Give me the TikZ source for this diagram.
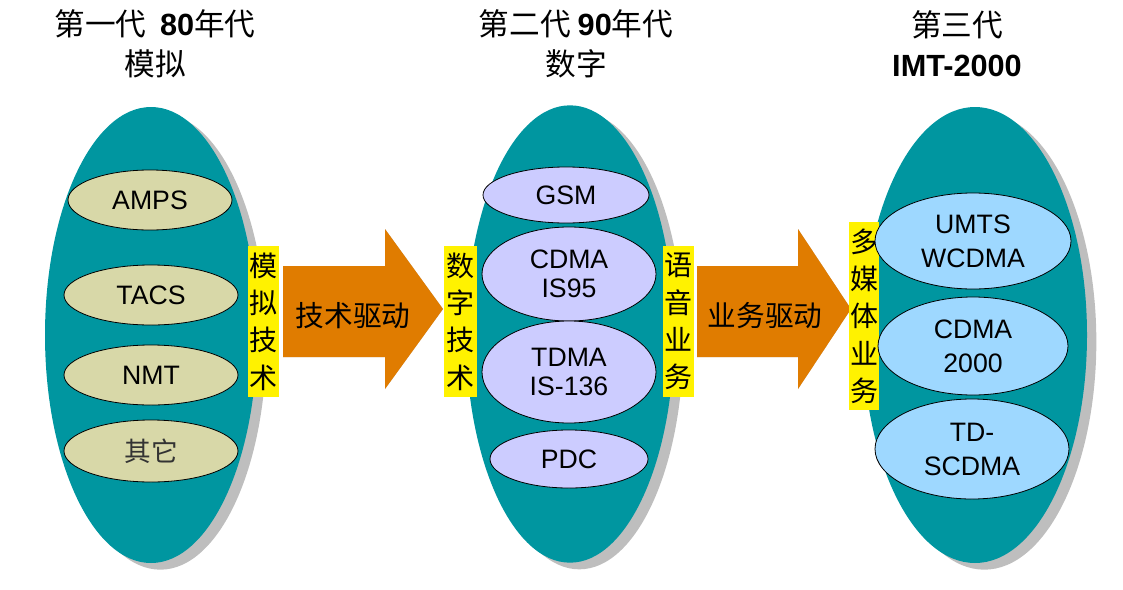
\documentclass[tikz,border=0pt]{standalone}
\usepackage{fontspec}
\setmainfont{Liberation Sans}
\newfontfamily\cjk{Noto Sans CJK SC}
\usetikzlibrary{shapes.geometric,shadows}
\definecolor{tealbig}{RGB}{0,150,160}
\definecolor{shadowgray}{RGB}{190,190,190}
\definecolor{tanfill}{RGB}{216,216,168}
\definecolor{lavfill}{RGB}{204,204,255}
\definecolor{skyfill}{RGB}{158,216,255}
\definecolor{orngfill}{RGB}{224,124,0}
\tikzset{
  bigell/.style={ellipse, fill=tealbig, inner sep=0pt,
    drop shadow={shadow xshift=7pt, shadow yshift=-5pt, fill=shadowgray, opacity=1}},
  innerell/.style={ellipse, draw=black, line width=0.6pt, inner sep=0pt, align=center,
    font=\fontsize{20}{22}\selectfont},
  innerellwide/.style={innerell, font=\fontsize{20}{25.5}\selectfont},
  ylab/.style={fill=yellow, inner sep=0pt, minimum width=23.25pt, align=center,
    font=\cjk\fontsize{21}{28}\selectfont},
  bigarrow/.style={fill=orngfill},
  arrowshadow/.style={fill=shadowgray},
  arrowtext/.style={font=\cjk\fontsize{21.5}{26}\selectfont},
  titletext/.style={align=center, font=\cjk\fontsize{23}{30}\selectfont}
}
\begin{document}
\begin{tikzpicture}[x=0.75pt,y=-0.75pt]
\useasboundingbox (0,0) rectangle (1123,589);

% titles
\node[titletext] (t1) at (155,44) {第一代\ \ {\fontspec{Liberation Sans}\bfseries 80}年代\\模拟};
\node[titletext] (t2) at (576,44) {第二代 {\fontspec{Liberation Sans}\bfseries 90}年代\\数字};
\node[titletext] (t3) at (957,44) {第三代\\{\fontspec{Liberation Sans}\bfseries IMT-2000}};

% big ellipses
\node[bigell, minimum width=159pt, minimum height=342pt] (g1) at (151,335) {};
\node[bigell, minimum width=156pt, minimum height=343pt] (g2) at (570,334) {};
\node[bigell, minimum width=168pt, minimum height=342pt] (g3) at (975,335) {};

% block arrows
\coordinate (a1) at (283,311);
\coordinate (a2) at (697,311);
\begin{scope}[shift={(10,10)}]
  \fill[arrowshadow] (a1) ++(0,-45) -- ++(102,0) -- ++(0,-37) -- ++(58,80) -- ++(-58,80) -- ++(0,-32) -- ++(-102,0) -- cycle;
  \fill[arrowshadow] (a2) ++(0,-45) -- ++(101,0) -- ++(0,-37) -- ++(53,80) -- ++(-53,80) -- ++(0,-32) -- ++(-101,0) -- cycle;
\end{scope}
\fill[bigarrow] (a1) ++(0,-45) -- ++(102,0) -- ++(0,-37) -- ++(58,80) -- ++(-58,80) -- ++(0,-32) -- ++(-102,0) -- cycle;
\fill[bigarrow] (a2) ++(0,-45) -- ++(101,0) -- ++(0,-37) -- ++(53,80) -- ++(-53,80) -- ++(0,-32) -- ++(-101,0) -- cycle;
\node[arrowtext] (d1) at (353,316) {技术驱动};
\node[arrowtext] (d2) at (765,316) {业务驱动};

% yellow labels
\node[ylab, minimum height=113.25pt] (y1) at (263.5,321.5) {模\\拟\\技\\术};
\node[ylab, minimum height=113.25pt, minimum width=24.75pt] (y2) at (460.5,321.5) {数\\字\\技\\术};
\node[ylab, minimum height=113.25pt] (y3) at (678.5,321.5) {语\\音\\业\\务};
\node[ylab, minimum height=141pt, minimum width=22.5pt] (y4) at (864,316) {多\\媒\\体\\业\\务};

% first generation
\node[innerell, fill=tanfill, minimum width=123pt, minimum height=45pt] (amps) at (150,200) {AMPS};
\node[innerell, fill=tanfill, minimum width=130.5pt, minimum height=45pt] (tacs) at (151,295) {TACS};
\node[innerell, fill=tanfill, minimum width=130.5pt, minimum height=45pt] (nmt) at (151,375) {NMT};
\node[innerell, fill=tanfill, minimum width=130.5pt, minimum height=46.5pt, font=\cjk\fontsize{20}{24}\selectfont, text=black!80] (other) at (151,451) {其它};

% second generation
\node[innerell, fill=lavfill, minimum width=124.5pt, minimum height=42pt] (gsm) at (566,195) {GSM};
\node[innerell, fill=lavfill, minimum width=130.5pt, minimum height=70.5pt] (cdma) at (569,274) {CDMA\\IS95};
\node[innerell, fill=lavfill, minimum width=130.5pt, minimum height=76.5pt] (tdma) at (569,372) {TDMA\\IS-136};
\node[innerell, fill=lavfill, minimum width=118.5pt, minimum height=43.5pt] (pdc) at (569,459) {PDC};

% third generation
\node[innerellwide, fill=skyfill, minimum width=147pt, minimum height=72pt] (umts) at (973,241) {UMTS\\WCDMA};
\node[innerellwide, fill=skyfill, minimum width=142.5pt, minimum height=73.5pt] (c2000) at (973,346) {CDMA\\2000};
\node[innerellwide, fill=skyfill, minimum width=145.5pt, minimum height=75pt] (td) at (972,449) {TD-\\SCDMA};
\end{tikzpicture}
\end{document}
